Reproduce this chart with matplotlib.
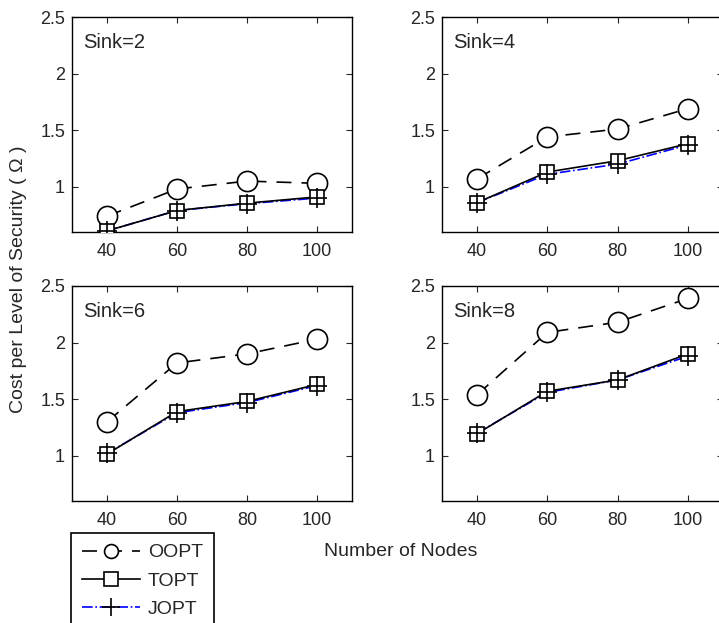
import matplotlib
matplotlib.use('Agg')

import matplotlib.pyplot as plt
from matplotlib.lines import Line2D

# 노드 수 (x축)
nodes = [40, 60, 80, 100]
sinks = [2, 4, 6, 8]

# 싱크 개수별 보안 수준당 비용
oopt = {
    2: [0.74, 0.98, 1.05, 1.03],
    4: [1.07, 1.44, 1.51, 1.69],
    6: [1.30, 1.82, 1.90, 2.03],
    8: [1.54, 2.09, 2.18, 2.39],
}
topt = {
    2: [0.61, 0.79, 0.855, 0.91],
    4: [0.86, 1.13, 1.23, 1.38],
    6: [1.015, 1.39, 1.48, 1.63],
    8: [1.195, 1.57, 1.67, 1.90],
}
jopt = {
    2: [0.61, 0.79, 0.85, 0.90],
    4: [0.86, 1.11, 1.20, 1.37],
    6: [1.02, 1.38, 1.47, 1.62],
    8: [1.20, 1.56, 1.67, 1.88],
}

y_ticks = [1, 1.5, 2, 2.5]
y_tick_labels = ['1', '1.5', '2', '2.5']

dark = '#262626'
plt.rcParams['font.family'] = ['Liberation Sans', 'DejaVu Sans']
plt.rcParams['axes.edgecolor'] = dark
plt.rcParams['text.color'] = dark

W, H = 719, 623
fig = plt.figure(figsize=(W / 100, H / 100), dpi=100)

# 서브플롯 위치 (픽셀 단위: 왼쪽, 위, 너비, 높이)
boxes = {
    2: (72, 17, 280, 215),
    4: (442, 17, 281, 215),
    6: (72, 286, 280, 215),
    8: (442, 286, 281, 215),
}

dash = (0, (9, 6))
for s in sinks:
    l, t, w, h = boxes[s]
    ax = fig.add_axes([l / W, 1 - (t + h) / H, w / W, h / H])
    ax.plot(nodes, oopt[s], color='black', linestyle=dash, lw=1.2,
            marker='o', ms=14.5, mfc='white', mec='black', mew=1.2, zorder=2)
    # JOPT 선은 TOPT 아래, 마커(+)는 사각형 위에 그림
    ax.plot(nodes, jopt[s], color='blue', linestyle='-.', lw=1.2, zorder=2)
    ax.plot(nodes, topt[s], color='black', linestyle='-', lw=1.2,
            marker='s', ms=10, mfc='white', mec='black', mew=1.2, zorder=3)
    ax.plot(nodes, jopt[s], linestyle='none', marker='+', ms=14,
            mec='black', mew=1.2, zorder=4)

    ax.set_xlim(30, 110)
    ax.set_ylim(0.6, 2.5)
    ax.set_xticks(nodes)
    ax.set_yticks(y_ticks)
    ax.set_yticklabels(y_tick_labels)
    ax.tick_params(axis='both', direction='in', top=True, right=True, length=4.5,
                   width=0.8, labelsize=13, colors=dark, labelcolor=dark)
    ax.tick_params(axis='x', pad=8)
    ax.tick_params(axis='y', pad=5)
    for sp in ax.spines.values():
        sp.set_linewidth(1.0)
        sp.set_color('black')
    ax.text(0.04, 0.88, 'Sink=%d' % s, transform=ax.transAxes,
            fontsize=14.5, va='center', ha='left')

# 공통 축 라벨
fig.text(401 / W, 1 - 552 / H, 'Number of Nodes', fontsize=14, ha='center', va='center')
fig.text(19 / W, 1 - 279 / H, 'Cost per Level of Security ( \u03a9 )', fontsize=14,
         rotation=90, ha='center', va='center')

# 범례용 핸들
handles = [
    Line2D([], [], color='black', linestyle=dash, lw=1.2, marker='o', ms=10,
           mfc='white', mec='black', mew=1.2),
    Line2D([], [], color='black', linestyle='-', lw=1.2, marker='s', ms=10,
           mfc='white', mec='black', mew=1.2),
    Line2D([], [], color='blue', linestyle='-.', lw=1.2, marker='+', ms=13,
           mec='black', mew=1.2),
]

# 범례 (그림 왼쪽 아래)
leg = fig.legend(handles, ['OOPT', 'TOPT', 'JOPT'], loc='upper left',
                 bbox_to_anchor=(71 / W, 1 - 533 / H), bbox_transform=fig.transFigure,
                 fontsize=14, frameon=True, fancybox=False, framealpha=1,
                 edgecolor='black', handlelength=3.0, handletextpad=0.4,
                 borderpad=0.55, labelspacing=0.55, borderaxespad=0)
leg.get_frame().set_linewidth(1.2)

plt.savefig('out.png', dpi=100)
plt.close()
